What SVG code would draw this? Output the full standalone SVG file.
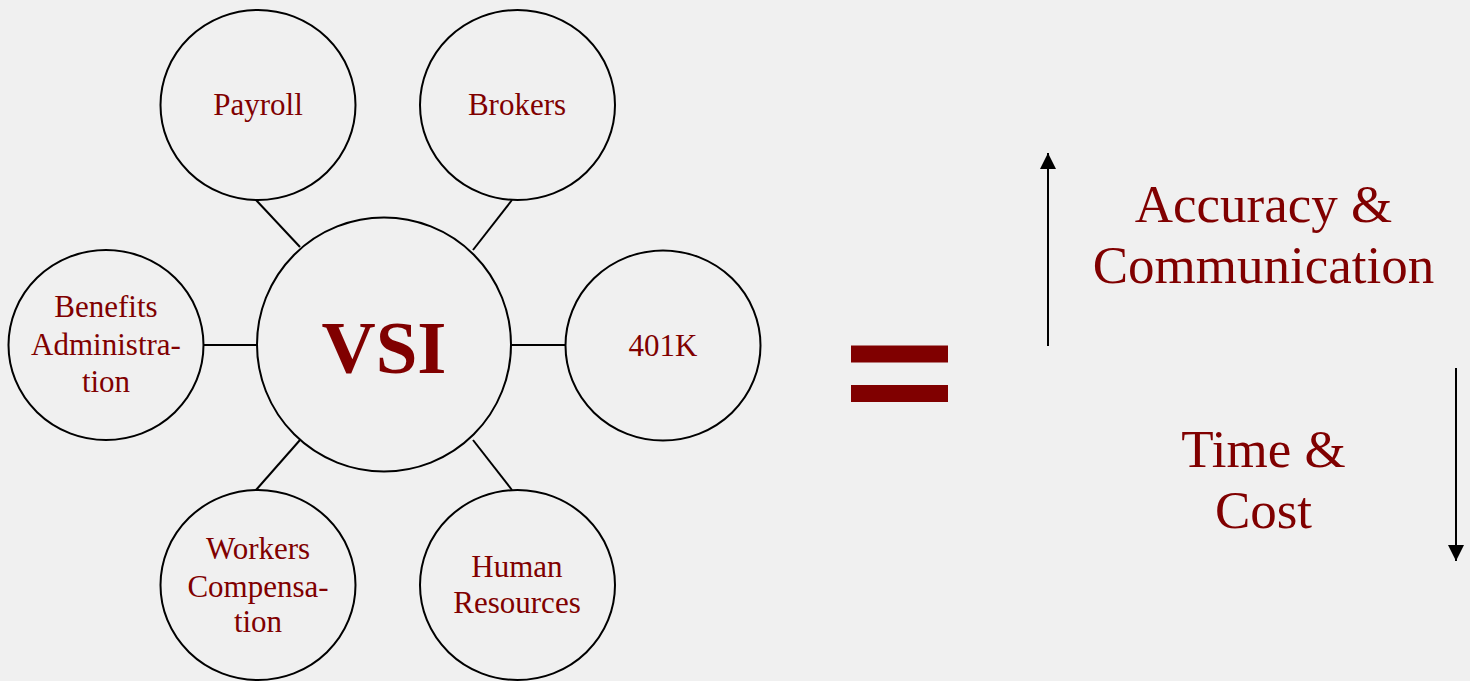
<svg xmlns="http://www.w3.org/2000/svg" width="1470" height="681" viewBox="0 0 1470 681">
<style>
.node{fill:none;stroke:#000;stroke-width:2}
.lbl{font-family:"Liberation Serif","Times New Roman",serif;fill:#800000;text-anchor:middle}
.s{font-size:31px}
.b{font-size:53px}
.conn line{stroke:#000;stroke-width:2}
</style>
<defs>
<marker id="ah" viewBox="0 0 16 16" refX="16" refY="8" markerWidth="16" markerHeight="16" markerUnits="userSpaceOnUse" orient="auto">
<path d="M0,0 L16,8 L0,16 Z" fill="#000"/>
</marker>
</defs>
<rect width="1470" height="681" fill="#f0f0f0"/>
<g id="connectors" class="conn">
<line x1="256" y1="200" x2="300" y2="247"/>
<line x1="512" y1="200" x2="473" y2="250"/>
<line x1="204" y1="345" x2="257" y2="345"/>
<line x1="511" y1="345" x2="565" y2="345"/>
<line x1="256" y1="490" x2="300" y2="440"/>
<line x1="512" y1="490" x2="473" y2="440"/>
<line x1="1048" y1="346" x2="1048" y2="153" marker-end="url(#ah)"/>
<line x1="1456" y1="368" x2="1456" y2="561" marker-end="url(#ah)"/>
</g>
<g id="vsi">
<circle class="node" cx="384" cy="344.5" r="127"/>
<text class="lbl" x="384" y="372.5" font-size="75" font-weight="bold">VSI</text>
</g>
<g id="payroll">
<ellipse class="node" cx="258" cy="105" rx="97.5" ry="95"/>
<text class="lbl s" x="258" y="115">Payroll</text>
</g>
<g id="brokers">
<ellipse class="node" cx="517.5" cy="105" rx="97.5" ry="95"/>
<text class="lbl s" x="517" y="115">Brokers</text>
</g>
<g id="benefits">
<ellipse class="node" cx="106" cy="345" rx="97.5" ry="95"/>
<text class="lbl s" x="106" y="317">Benefits</text>
<text class="lbl s" x="106" y="355">Administra-</text>
<text class="lbl s" x="106" y="392">tion</text>
</g>
<g id="k401">
<ellipse class="node" cx="663" cy="345.5" rx="97.5" ry="95"/>
<text class="lbl s" x="663" y="356">401K</text>
</g>
<g id="workers">
<ellipse class="node" cx="258" cy="585" rx="97.5" ry="95"/>
<text class="lbl s" x="258" y="559">Workers</text>
<text class="lbl s" x="258" y="597">Compensa-</text>
<text class="lbl s" x="258" y="632">tion</text>
</g>
<g id="human">
<ellipse class="node" cx="517.5" cy="585" rx="97.5" ry="95"/>
<text class="lbl s" x="517" y="577">Human</text>
<text class="lbl s" x="517" y="613">Resources</text>
</g>
<g id="equals" fill="#800000">
<rect x="851" y="345.5" width="97" height="17"/>
<rect x="851" y="385" width="97" height="17"/>
</g>
<g id="accuracy">
<text class="lbl b" x="1263.5" y="222">Accuracy &amp;</text>
<text class="lbl b" x="1263.5" y="283">Communication</text>
</g>
<g id="timecost">
<text class="lbl b" x="1263.5" y="467">Time &amp;</text>
<text class="lbl b" x="1263.5" y="528">Cost</text>
</g>
</svg>
